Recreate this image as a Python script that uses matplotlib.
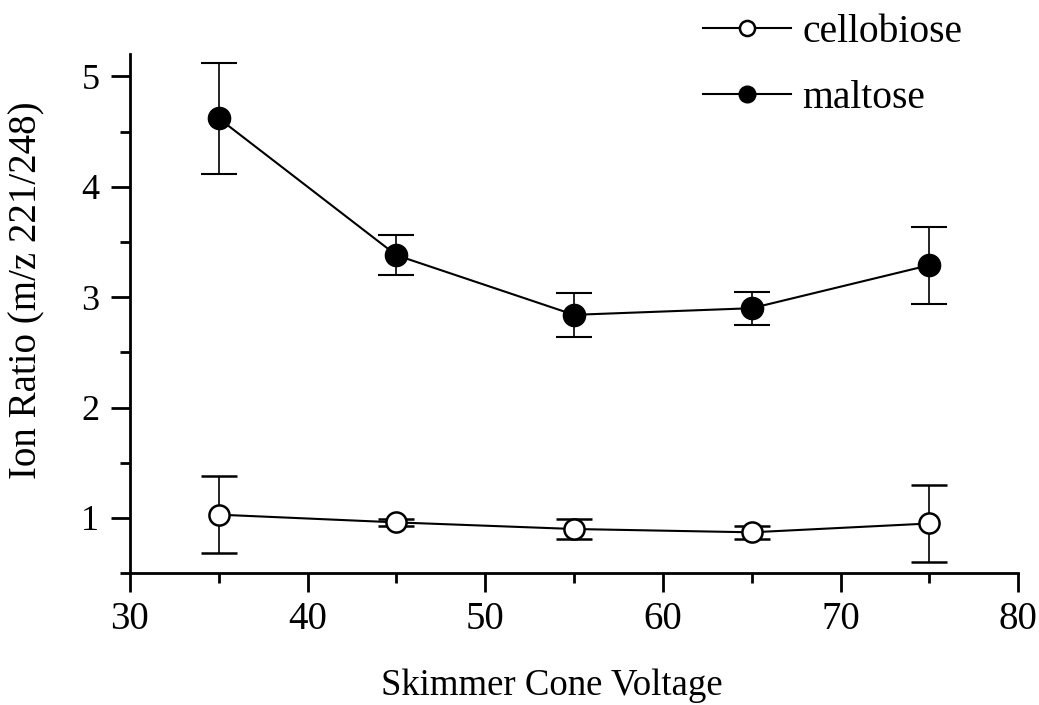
import numpy as np
import matplotlib.pyplot as plt
from matplotlib.ticker import MultipleLocator

plt.rcParams['font.family'] = ['Liberation Serif', 'DejaVu Serif']

voltage = [35, 45, 55, 65, 75]
cellobiose = [1.03, 0.96, 0.90, 0.87, 0.95]
cellobiose_err = [0.35, 0.03, 0.09, 0.06, 0.35]
maltose = [4.62, 3.38, 2.84, 2.90, 3.29]
maltose_err = [0.50, 0.18, 0.20, 0.15, 0.35]

fig = plt.figure(figsize=(10.39, 7.05), dpi=100)
ax = fig.add_axes([0.125, 0.187, 0.855, 0.736])

ax.errorbar(voltage, cellobiose, yerr=cellobiose_err, color='black', lw=1.5,
            marker='o', ms=14.5, mfc='white', mec='black', mew=1.8,
            capsize=13, capthick=1.5, elinewidth=1.2, label='cellobiose')
ax.errorbar(voltage, maltose, yerr=maltose_err, color='black', lw=1.5,
            marker='o', ms=16, mfc='black', mec='black',
            capsize=13, capthick=1.5, elinewidth=1.2, label='maltose')

ax.set_xlim(30, 80)
ax.set_ylim(0.5, 5.2)
ax.xaxis.set_major_locator(MultipleLocator(10))
ax.xaxis.set_minor_locator(MultipleLocator(5))
ax.yaxis.set_major_locator(MultipleLocator(1))
ax.yaxis.set_minor_locator(MultipleLocator(0.5))

for side in ['top', 'right']:
    ax.spines[side].set_visible(False)
for side in ['left', 'bottom']:
    ax.spines[side].set_linewidth(2)

ax.tick_params(which='major', length=14, width=2)
ax.tick_params(which='minor', length=7, width=2)
ax.tick_params(axis='x', labelsize=28, pad=6)
ax.tick_params(axis='y', labelsize=26, pad=8)

ax.set_xlabel('Skimmer Cone Voltage', fontsize=26.5, va='top')
ax.xaxis.set_label_coords(0.475, -0.183)
ax.set_ylabel('Ion Ratio (m/z 221/248)', fontsize=28)
ax.yaxis.set_label_coords(-0.095, 0.545)

handles, labels = ax.get_legend_handles_labels()
handles = [h[0] for h in handles]
fig.legend(handles, labels, loc='upper left', bbox_to_anchor=(0.658, 1.008),
           frameon=False, fontsize=28.5, handlelength=2.2, labelspacing=0.72,
           handletextpad=0.3, borderpad=0, markerscale=0.75)

fig.savefig('out.png', dpi=100)
